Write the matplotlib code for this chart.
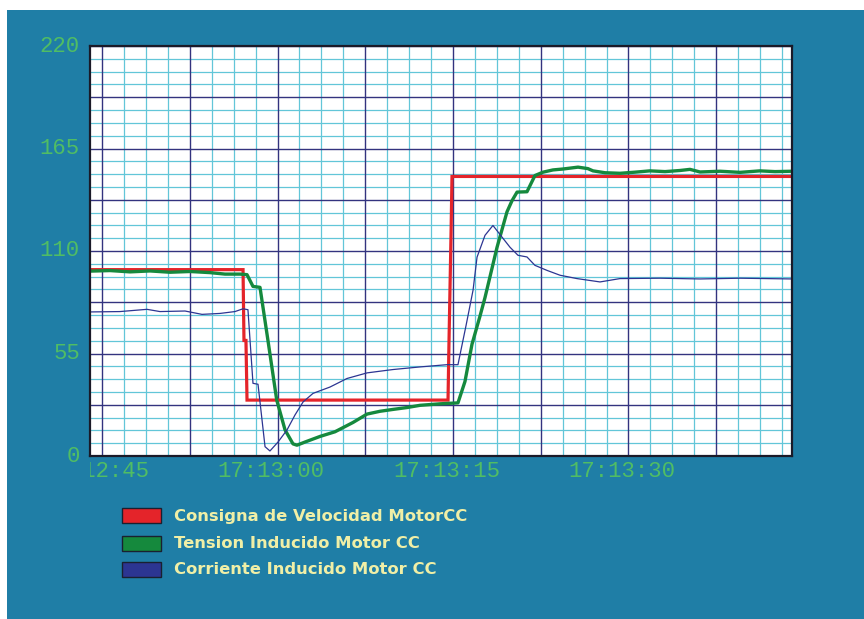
import matplotlib
matplotlib.use('Agg')
import numpy as np
import matplotlib.pyplot as plt
from matplotlib.patches import Rectangle
from matplotlib.transforms import Bbox, TransformedBbox

W, H = 864, 619

# ---------------- data (time in seconds after 17:12:00) ----------------
red_t = [44.5, 57.58, 57.66, 57.83, 57.92, 75.10, 75.18, 75.36, 75.44, 104.5]
red_v = [100, 100, 62, 62, 30, 30, 60, 120, 150, 150]

green_t = [44.5, 46.21, 47.92, 49.63, 51.34, 53.05, 54.76, 56.04, 57.32, 57.92,
           58.43, 59.03, 59.71, 60.46, 61.17, 61.85, 62.19, 62.88, 64.16, 65.44,
           66.98, 68.18, 69.29, 70.40, 71.59, 72.71, 74.41, 75.95, 76.55, 77.15,
           77.83, 78.26, 79.29, 80.14, 80.57, 81.00, 81.85, 82.53, 83.22, 84.07,
           84.93, 86.21, 87.06, 87.49, 88.52, 89.80, 91.08, 92.36, 93.65, 94.93,
           95.78, 96.64, 98.35, 100.06, 101.76, 103.05, 104.5]
green_v = [99.2, 99.5, 98.8, 99.3, 98.6, 99.0, 98.4, 97.6, 97.6, 97.3,
           91, 90.5, 62, 30, 14, 6.5, 5.8, 7.5, 10.5, 13,
           18, 22.5, 24, 25, 26, 27.2, 28, 28.5, 40, 60,
           75, 85, 112, 131, 137, 141.6, 141.8, 150.5, 152.3, 153.5,
           154, 155, 154.2, 153, 152, 151.7, 152.3, 153, 152.6, 153.2,
           153.8, 152.4, 152.8, 152.2, 153, 152.6, 152.8]

blue_t = [44.5, 47.06, 49.37, 50.48, 52.62, 54.07, 55.61, 56.89, 57.58, 58.00,
          58.43, 58.86, 59.46, 59.88, 60.57, 61.34, 62.02, 62.71, 63.56, 65.01,
          66.47, 68.18, 70.40, 72.71, 75.01, 75.95, 76.64, 77.24, 77.58, 78.26,
          78.94, 79.71, 80.40, 81.08, 81.85, 82.53, 83.56, 84.67, 86.12, 88.09,
          89.80, 93.22, 96.64, 100.06, 104.5]
blue_v = [77.3, 77.5, 78.7, 77.5, 77.8, 76.0, 76.5, 77.5, 79, 78.5,
          39, 38.5, 5, 2.7, 7.5, 14, 22, 29, 33.6, 37,
          41.6, 44.6, 46.4, 47.8, 49, 49, 70, 89, 106.7, 118.4,
          123.7, 117.5, 112, 107.7, 106.8, 102.3, 99.6, 97, 95.2, 93.4,
          95.2, 95.4, 95.0, 95.4, 95.0]

series_names = ['Consigna de Velocidad MotorCC',
                'Tension Inducido Motor CC',
                'Corriente Inducido Motor CC']
series_colors = ['#e4242a', '#15893d', '#2c3592']

x_tick_times = [45, 60, 75, 90]
x_tick_labels = ['17:12:45', '17:13:00', '17:13:15', '17:13:30']
y_ticks = [0, 55, 110, 165, 220]

# ---------------- style ----------------
BG = '#1f7ea6'
TICK_GREEN = '#50bd64'
LEG_TEXT = '#f0efa6'
MINOR_GRID = '#62c6d8'
MAJOR_GRID = '#33337f'

fig = plt.figure(figsize=(W / 100, H / 100), dpi=100, facecolor='white')
fig.add_artist(Rectangle((7 / W, 0), 1 - 7 / W, (H - 10) / H,
                         transform=fig.transFigure, facecolor=BG,
                         edgecolor='none', zorder=0))

ax = fig.add_axes([90 / W, 1 - 456 / H, (792 - 90) / W, (456 - 46) / H])
ax.set_facecolor('white')
ax.set_xlim(44.5, 104.5)
ax.set_ylim(0, 220)

# grid
px_per_s = 702 / 60.0
gx0 = 44.5 + 12 / px_per_s
vx = np.arange(gx0, 104.5, 1.875)
for i, x in enumerate(vx):
    major = (i % 4 == 0)
    ax.axvline(x, color=MAJOR_GRID if major else MINOR_GRID,
               lw=1.0 if major else 0.9, zorder=2 if major else 1)
hy = np.arange(0, 220.01, 6.875)
for i, y in enumerate(hy):
    major = (i % 4 == 0)
    ax.axhline(y, color=MAJOR_GRID if major else MINOR_GRID,
               lw=1.0 if major else 0.9, zorder=2 if major else 1)

# series
ax.plot(red_t, red_v, color=series_colors[0], lw=2.3, zorder=4,
        solid_joinstyle='miter')
ax.plot(green_t, green_v, color=series_colors[1], lw=2.4, zorder=5)
ax.plot(blue_t, blue_v, color=series_colors[2], lw=0.9, zorder=6)

for s in ax.spines.values():
    s.set_color('#1a1a28')
    s.set_linewidth(1.6)
    s.set_zorder(7)

ax.set_xticks([])
ax.set_yticks([])

tick_font = dict(family='Liberation Mono', size=16, color=TICK_GREEN)

clip_bb = TransformedBbox(Bbox([[0, -0.3], [1.2, 1]]), ax.transAxes)
for t, lab in zip(x_tick_times, x_tick_labels):
    txt = ax.text(t, -0.039, lab, transform=ax.get_xaxis_transform(),
                  ha='center', va='center', clip_on=True, **tick_font)
    txt.set_clip_box(clip_bb)

for y in y_ticks:
    ax.text(-0.0145, y, str(y), transform=ax.get_yaxis_transform(),
            ha='right', va='center', clip_on=False, **tick_font)

# legend
rows_top = [508, 535.5, 562]
for top, name, col in zip(rows_top, series_names, series_colors):
    fig.add_artist(Rectangle((122 / W, 1 - (top + 15) / H), 39 / W, 15 / H,
                             transform=fig.transFigure, facecolor=col,
                             edgecolor='#1a2030', lw=1.0, zorder=3))
    fig.text(174 / W, 1 - (top + 12.5) / H, name, ha='left', va='baseline',
             family='DejaVu Sans', weight='bold', size=11.8, color=LEG_TEXT)

fig.savefig('out.png', dpi=100, facecolor=fig.get_facecolor())
